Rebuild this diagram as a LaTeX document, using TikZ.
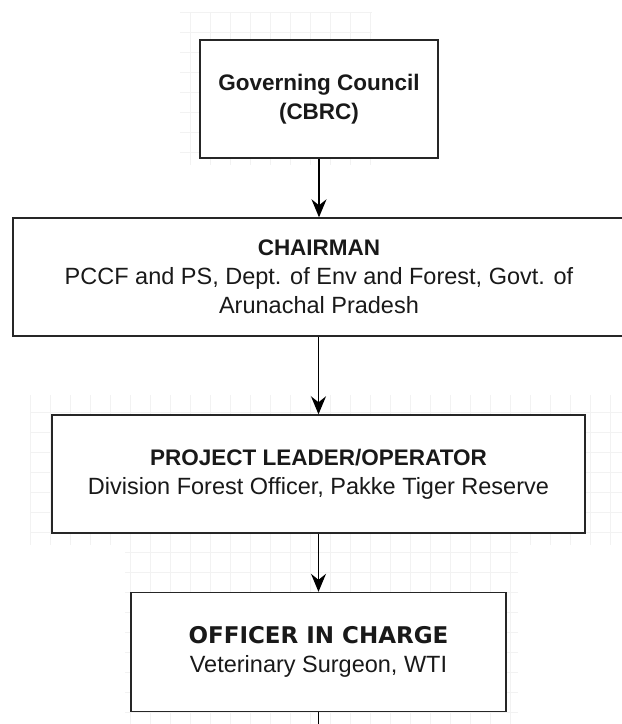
\documentclass[tikz,border=0pt]{standalone}
\usepackage{fontspec}
\setmainfont{Liberation Sans}
\newfontfamily\heavyfont{DejaVu Sans}
\usetikzlibrary{arrows.meta}
\tikzset{
  orgbox/.style={draw=black!85, line width=1.4pt, fill=white, rectangle, align=center, inner sep=0pt, minimum height=118pt, text=black!90},
  conn/.style={draw=black, line width=1.3pt, -{Stealth[length=18pt,width=15pt,inset=6pt]}},
  plainconn/.style={draw=black, line width=1.3pt},
  gridline/.style={draw=black!5, line width=0.7pt},
  reg/.style={font=\fontsize{23.5pt}{29pt}\selectfont},
}
\newcommand{\bt}[1]{{\fontsize{22.5pt}{29pt}\selectfont\bfseries #1}}
\begin{document}
\begin{tikzpicture}[x=1pt,y=-1pt]
\useasboundingbox (0,0) rectangle (622,724);
\fill[white] (0,0) rectangle (622,724);
% faint background grid patches
\foreach \x in {190,210,...,370} \draw[gridline] (\x,12) -- (\x,165);
\foreach \y in {12,32,...,152} \draw[gridline] (180,\y) -- (372,\y);
\foreach \x in {30,50,...,610} \draw[gridline] (\x,395) -- (\x,545);
\foreach \y in {412,432,...,532} \draw[gridline] (30,\y) -- (622,\y);
\foreach \x in {130,150,...,510} \draw[gridline] (\x,540) -- (\x,724);
\foreach \y in {552,572,...,712} \draw[gridline] (125,\y) -- (518,\y);
% boxes
\node[orgbox, minimum width=238pt, reg] (gc) at (319,99)
  {\bt{Governing Council}\\\bt{(CBRC)}};
\node[orgbox, minimum width=612pt, reg] (ch) at (319,277)
  {\bt{CHAIRMAN}\\PCCF and PS, Dept. of Env and Forest, Govt. of\\Arunachal Pradesh};
\node[orgbox, minimum width=533pt, reg] (pl) at (318.5,474)
  {\bt{PROJECT LEADER/OPERATOR}\\Division Forest Officer, Pakke Tiger Reserve};
\node[orgbox, minimum width=375pt, minimum height=119pt, reg] (oc) at (318.5,652)
  {{\heavyfont\bfseries\fontsize{23pt}{29pt}\selectfont OFFICER IN CHARGE}\\Veterinary Surgeon, WTI};
\coordinate (tail) at (318.5,724);
% connectors
\draw[conn] (gc.south) -- (gc.south |- ch.north);
\draw[conn] (ch.south -| pl.north) -- (pl.north);
\draw[conn] (pl.south) -- (oc.north);
\draw[plainconn] (oc.south) -- (tail);
\end{tikzpicture}
\end{document}
